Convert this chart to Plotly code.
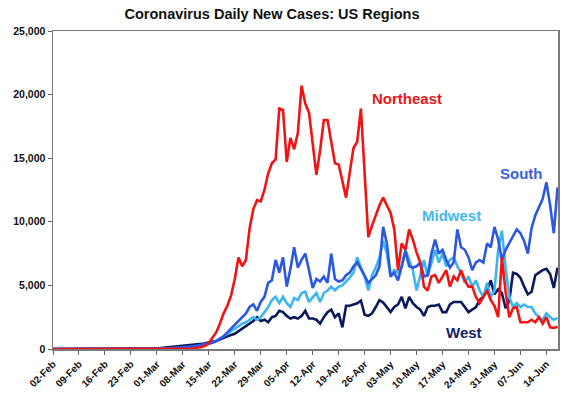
import pandas as pd
import plotly.graph_objects as go

# Daily dates: 02-Feb-2020 .. 17-Jun-2020
dates = pd.date_range("2020-02-02", "2020-06-17", freq="D")

northeast = [
    0, 0, 0, 0, 0, 0, 0, 0, 0, 0, 0, 0, 0, 0, 0, 0, 0, 0, 0, 0, 0, 0, 0, 0, 0, 0, 0, 0,
    0, 0, 0, 0, 0, 0, 10, 20, 30, 40, 60, 100, 150, 250, 450, 900, 1300, 2000, 2800, 3400,
    4200, 5500, 7200, 6500, 7000, 9500, 11000, 11700, 11600, 12500, 13800, 14600, 14900,
    18900, 18800, 14700, 16600, 15700, 17000, 20700, 19300, 18600, 16200, 13700, 15600,
    18000, 18000, 16200, 14600, 14500, 13200, 11900, 13900, 15800, 16300, 18900, 13800,
    8800, 9700, 10500, 11300, 11900, 11300, 10700, 9400, 6200, 8300, 7800, 9400, 8600,
    7600, 6800, 4900, 4600, 5700, 5800, 5200, 5700, 6200, 4900, 5700, 5400, 6200, 5400,
    4900, 4900, 4100, 3600, 4100, 4600, 3850, 3400, 2500, 7200, 4500, 2500, 3200, 3300,
    2100, 2100, 2100, 2300, 2100, 2500, 2000, 2500, 1700, 1650, 1750,
]

south = [
    0, 0, 0, 0, 0, 0, 0, 0, 0, 0, 0, 0, 0, 0, 0, 0, 0, 0, 0, 0, 0, 0, 0, 0, 0, 0, 0, 0,
    0, 20, 30, 50, 70, 90, 110, 140, 170, 200, 240, 280, 330, 380, 430, 500, 600, 800,
    1000, 1300, 1600, 1900, 2200, 2500, 2800, 3300, 3500, 3000, 3700, 4100, 5200, 5400,
    7000, 6000, 7200, 4900, 6300, 8000, 6400, 7000, 7500, 6200, 4800, 5500, 5300, 5700,
    5200, 7500, 5500, 5300, 5400, 5800, 6000, 6500, 6800, 6300, 5800, 5200, 5500, 5800,
    6500, 9600, 8300, 5700, 6000, 5400, 6500, 7700, 6500, 6400, 6500, 6800, 5700, 5800,
    7500, 8600, 7500, 7800, 7000, 6400, 6800, 9400, 8000, 7800, 7200, 6200, 6800, 7000,
    6800, 8300, 8000, 9600, 8600, 7000, 7800, 8300, 8800, 9400, 9100, 8500, 7500, 9500,
    10500, 11200, 11800, 13100, 11300, 9100, 12700,
]

midwest = [
    0, 0, 0, 0, 0, 0, 0, 0, 0, 0, 0, 0, 0, 0, 0, 0, 0, 0, 0, 0, 0, 0, 0, 0, 0, 0, 0, 0,
    0, 0, 10, 15, 20, 30, 40, 60, 80, 100, 150, 200, 250, 300, 400, 500, 650, 800, 1000,
    1200, 1400, 1600, 1800, 2000, 2100, 2300, 2500, 2300, 2500, 2900, 3300, 3850, 4100,
    3600, 4100, 3600, 3300, 4000, 3850, 4400, 4500, 3700, 4100, 4400, 3700, 4400, 4600,
    4900, 4600, 4900, 5000, 5300, 5600, 6000, 7200, 6400, 5700, 4600, 5800, 6400, 7200,
    8500, 7500, 5700, 6200, 6000, 6500, 7800, 7000, 6200, 4600, 5700, 7000, 5700, 6800,
    7800, 6800, 7500, 6500, 7000, 7200, 6500, 6000, 5200, 5700, 4900, 5400, 4600, 4100,
    5200, 4100, 4600, 7800, 9300, 6400, 4100, 3300, 3600, 3300, 3500, 3300, 3300, 2800,
    2500, 2300, 2800, 2500, 2300, 2450,
]

west = [
    0, 0, 0, 0, 0, 0, 0, 0, 0, 0, 0, 0, 0, 0, 0, 0, 0, 0, 0, 0, 0, 0, 0, 0, 0, 0, 0, 0,
    50, 70, 100, 120, 150, 170, 200, 220, 250, 280, 300, 350, 400, 450, 500, 550, 650,
    750, 900, 1000, 1100, 1200, 1400, 1600, 1800, 2000, 2200, 2500, 2200, 2300, 2100,
    2500, 2600, 3000, 2900, 2600, 2400, 2500, 2400, 2600, 3000, 2400, 2400, 2300, 2000,
    2500, 2900, 3100, 2500, 2800, 1700, 3400, 3400, 3500, 3600, 3800, 2700, 2600, 2800,
    3300, 3850, 3650, 3300, 2900, 3300, 3500, 4100, 3200, 4100, 3600, 3300, 3100, 2600,
    3300, 3400, 3400, 3500, 2900, 2900, 3500, 3700, 3700, 3700, 3300, 2900, 3100, 3300,
    3850, 4100, 4600, 5400, 4300, 4700, 4400, 3200, 3800, 6000, 5900, 5600, 4900, 4300,
    4500, 5800, 6000, 6200, 6300, 5900, 4800, 6400,
]

series = [
    ("West", west, "#0c1a5c"),
    ("Midwest", midwest, "#3db5f0"),
    ("South", south, "#2c57e0"),
    ("Northeast", northeast, "#f01414"),
]

fig = go.Figure()
for name, vals, color in series:
    fig.add_trace(go.Scatter(x=dates, y=vals, mode="lines", name=name,
                             line=dict(color=color, width=2.6)))

FONT = "Liberation Sans, Arial, sans-serif"

labels = [
    ("Northeast", 0.701, 0.789, "#e8161b"),
    ("South", 0.927, 0.553, "#3a5fd9"),
    ("Midwest", 0.790, 0.421, "#46b8ee"),
    ("West", 0.814, 0.053, "#142266"),
]
for text, xp, yp, color in labels:
    fig.add_annotation(x=xp, y=yp, xref="paper", yref="paper", text=text,
                       showarrow=False, xanchor="center", yanchor="middle",
                       font=dict(family=FONT, size=15, color=color, weight="bold"))

W, H = 570, 397
fig.update_layout(
    width=W, height=H,
    margin=dict(l=53, r=12, t=31, b=48),
    paper_bgcolor="white", plot_bgcolor="white",
    showlegend=False,
    title=dict(text="Coronavirus Daily New Cases: US Regions",
               x=272 / W, xanchor="center", y=1 - 14 / H, yanchor="middle",
               font=dict(family=FONT, size=14.5, color="#111111", weight="bold")),
)
fig.update_xaxes(
    type="date", range=["2020-02-02", "2020-06-17 03:00"], automargin=False,
    tick0="2020-02-02", dtick=7 * 86400000, tickformat="%d-%b", tickangle=-45,
    ticks="outside", ticklen=4, tickcolor="#666666",
    showgrid=False, zeroline=False,
    showline=True, mirror=True, linecolor="#7a7a7a", linewidth=1.5,
    tickfont=dict(family=FONT, size=10, color="#111111", weight="bold"),
)
fig.update_yaxes(
    range=[0, 25000], dtick=5000, tickformat=",d", automargin=False,
    ticks="outside", ticklen=4, tickcolor="#666666",
    showgrid=False, zeroline=False,
    showline=True, mirror=True, linecolor="#7a7a7a", linewidth=1.5,
    tickfont=dict(family=FONT, size=10.5, color="#111111", weight="bold"),
)

# remove the page's default 8px body margin so the figure fills the window
fig.write_html("out.html",
               config={"displayModeBar": False, "staticPlot": True},
               post_script="document.body.style.margin='0';document.body.style.overflow='hidden';")
